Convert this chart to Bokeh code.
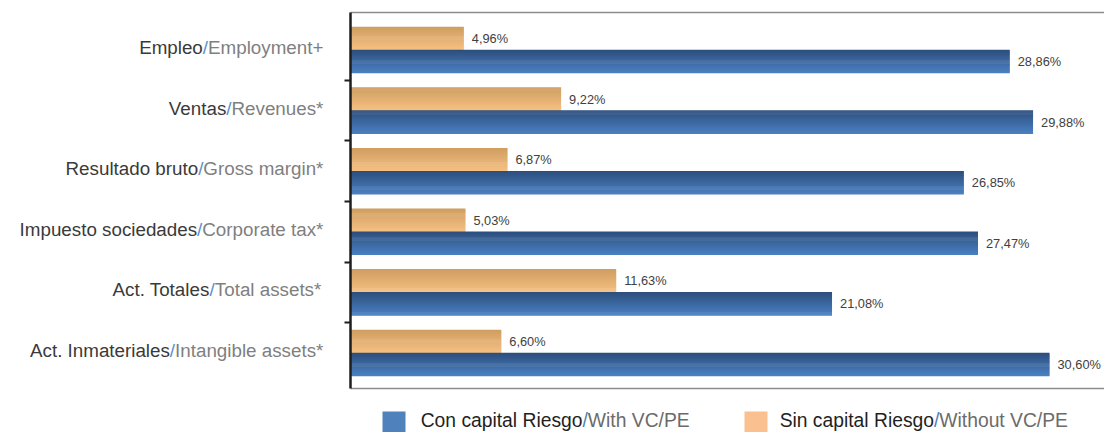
from bokeh.plotting import figure
from bokeh.models import Range1d, FixedTicker, LinearAxis, ColumnDataSource, CustomJSTickFormatter
from bokeh.embed import file_html
from bokeh.resources import INLINE
from bokeh.core.properties import value

# ---------------- data ----------------
categories_es = ["Empleo", "Ventas", "Resultado bruto", "Impuesto sociedades",
                 "Act. Totales", "Act. Inmateriales"]
categories_en = ["Employment+", "Revenues*", "Gross margin*", "Corporate tax*",
                 "Total assets*", "Intangible assets*"]
with_vc = [28.86, 29.88, 26.85, 27.47, 21.08, 30.60]
without_vc = [4.96, 9.22, 6.87, 5.03, 11.63, 6.60]
series_es = ["Con capital Riesgo", "Sin capital Riesgo"]
series_en = ["With VC/PE", "Without VC/PE"]

# ---------------- layout constants (canvas px) ----------------
W, H = 1104, 432
X0 = 350                  # px of value 0
PXU = (1049 - X0) / 30.6  # px per percent
ROW = 60.6                # px per category
Y0 = 49.5                 # px of first category centre
BAR_H = 0.38
OFF = 0.19

FONT = "Liberation Sans"
ARIAL = {
    ' ': 569, '.': 569, ',': 569, '/': 569, '+': 1196, '*': 797, '%': 1821,
    'a': 1139, 'b': 1139, 'c': 1024, 'd': 1139, 'e': 1139, 'f': 569, 'g': 1139,
    'h': 1139, 'i': 455, 'j': 455, 'k': 1024, 'l': 455, 'm': 1706, 'n': 1139,
    'o': 1139, 'p': 1139, 'q': 1139, 'r': 682, 's': 1024, 't': 569, 'u': 1139,
    'v': 1024, 'w': 1479, 'x': 1024, 'y': 1024, 'z': 1024,
    'A': 1366, 'B': 1366, 'C': 1479, 'D': 1479, 'E': 1366, 'F': 1251, 'G': 1593,
    'H': 1479, 'I': 569, 'J': 1024, 'K': 1366, 'L': 1139, 'M': 1706, 'N': 1479,
    'O': 1593, 'P': 1366, 'Q': 1593, 'R': 1479, 'S': 1366, 'T': 1251, 'U': 1479,
    'V': 1366, 'W': 1933, 'X': 1366, 'Y': 1366, 'Z': 1251,
}


def tw(s, fs):
    return sum(ARIAL.get(ch, 1139) for ch in s) / 2048.0 * fs


def px_to_x(px):
    return (px - X0) / PXU


def py_to_y(py):
    return (py - Y0) / ROW


def lerp(c1, c2, t):
    a = [int(c1[i:i + 2], 16) for i in (1, 3, 5)]
    b = [int(c2[i:i + 2], 16) for i in (1, 3, 5)]
    return "#%02x%02x%02x" % tuple(round(a[k] + (b[k] - a[k]) * t) for k in range(3))


p = figure(width=W, height=H,
           x_range=Range1d(px_to_x(0), px_to_x(W)),
           y_range=Range1d(py_to_y(H), py_to_y(0)),
           output_backend="svg", toolbar_location=None,
           x_axis_location=None, y_axis_location=None,
           min_border=0, min_border_left=0, min_border_right=0,
           min_border_top=0, min_border_bottom=0)
p.outline_line_color = None
p.background_fill_color = "white"
p.border_fill_color = "white"
p.grid.visible = False

Y_TOP, Y_BOT = py_to_y(12), py_to_y(388)
X_END = px_to_x(W)

# ---------------- bars with vertical gradient (strips) ----------------
N = 24
strips = dict(y=[], right=[], color=[])
grad = [("#d09e61", "#f5bf82", without_vc, -OFF), ("#2d4f7e", "#4a7fc0", with_vc, OFF)]
for top_c, bot_c, vals, off in grad:
    for i, v in enumerate(vals):
        yc = i + off
        for k in range(N):
            t = k / (N - 1)
            strips["y"].append(yc - BAR_H / 2 + (k + 0.5) * BAR_H / N)
            strips["right"].append(v)
            strips["color"].append(lerp(top_c, bot_c, t))
p.hbar(y="y", left=0, right="right", height=BAR_H / N * 1.6, color="color",
       line_color=None, source=ColumnDataSource(strips))

# ---------------- value labels ----------------
fmt = lambda v: ("%.2f" % v).replace(".", ",") + "%"
lab = dict(x=[], y=[], text=[])
for vals, off in ((without_vc, -OFF), (with_vc, OFF)):
    for i, v in enumerate(vals):
        lab["x"].append(v)
        lab["y"].append(i + off)
        lab["text"].append(fmt(v))
p.text(x="x", y="y", text="text", source=ColumnDataSource(lab), x_offset=8,
       text_baseline="middle", text_align="left",
       text_font=value(FONT), text_font_size="12.8px", text_color="#404040")

# ---------------- axes (fixed inside the canvas) ----------------
blank = CustomJSTickFormatter(code="return ''")
yaxis = LinearAxis(fixed_location=0, bounds=(Y_TOP, Y_BOT),
                   ticker=FixedTicker(ticks=[i + 0.5 for i in range(len(categories_es) - 1)]),
                   formatter=blank, major_label_standoff=0,
                   major_tick_out=6, major_tick_in=0, minor_tick_out=0, minor_tick_in=0,
                   axis_line_width=2.5, axis_line_color="#1e1e1e",
                   major_tick_line_width=2, major_tick_line_color="#1e1e1e")
p.add_layout(yaxis, "left")
for loc, side in ((Y_BOT, "below"), (Y_TOP, "above")):
    ax = LinearAxis(fixed_location=loc, bounds=(0, X_END), ticker=FixedTicker(ticks=[]),
                    formatter=blank, major_label_standoff=0,
                    major_tick_out=0, major_tick_in=0, minor_tick_out=0, minor_tick_in=0,
                    axis_line_width=1.5, axis_line_color="#8c8c8c")
    p.add_layout(ax, side)

# ---------------- category labels (three colours per label) ----------------
# the slash is placed from the estimated widths; the Spanish part ends at it,
# the English part starts after it (so font kerning cannot open gaps)
LFS = 18.8
RIGHT = 323 - X0
cl = dict(x=[], y=[], text=[], color=[], xo=[], align=[])
for i, (es, en) in enumerate(zip(categories_es, categories_en)):
    w_en = tw(en, LFS)
    w_sl = tw("/", LFS)
    sl_left = RIGHT - w_en - w_sl
    for txt, col, xo, al in ((es, "#3a3a3a", sl_left, "right"),
                             ("/", "#5b8fd0", sl_left, "left"),
                             (en, "#7f7f7f", sl_left + w_sl, "left")):
        cl["x"].append(0)
        cl["y"].append(i - 2.5 / ROW)
        cl["text"].append(txt)
        cl["color"].append(col)
        cl["xo"].append(xo)
        cl["align"].append(al)
p.text(x="x", y="y", text="text", x_offset="xo", text_color="color", text_align="align",
       source=ColumnDataSource(cl), text_baseline="middle",
       text_font=value(FONT), text_font_size="%.1fpx" % LFS)

# ---------------- legend ----------------
LEG_FS = 19.3
leg_colors = ["#4f81bd", "#fac090"]
leg_sq = [382, 744]
leg_tx = [420, 779]
p.quad(left=[px_to_x(s) for s in leg_sq], right=[px_to_x(s + 23) for s in leg_sq],
       top=[py_to_y(411)] * 2, bottom=[py_to_y(440)] * 2,
       fill_color=leg_colors, line_color=None)
lg = dict(x=[], y=[], text=[], color=[], align=[])
for j in range(2):
    sl = leg_tx[j] + tw(series_es[j], LEG_FS)
    for txt, col, xp, al in ((series_es[j], "#1f1f1f", sl, "right"),
                             ("/", "#4f81bd", sl, "left"),
                             (series_en[j], "#6b6b6b", sl + tw("/", LEG_FS), "left")):
        lg["x"].append(px_to_x(xp))
        lg["y"].append(py_to_y(420))
        lg["text"].append(txt)
        lg["color"].append(col)
        lg["align"].append(al)
p.text(x="x", y="y", text="text", text_color="color", text_align="align",
       source=ColumnDataSource(lg), text_baseline="middle",
       text_font=value(FONT), text_font_size="%.1fpx" % LEG_FS)

open("out.html", "w").write(file_html(p, INLINE))
